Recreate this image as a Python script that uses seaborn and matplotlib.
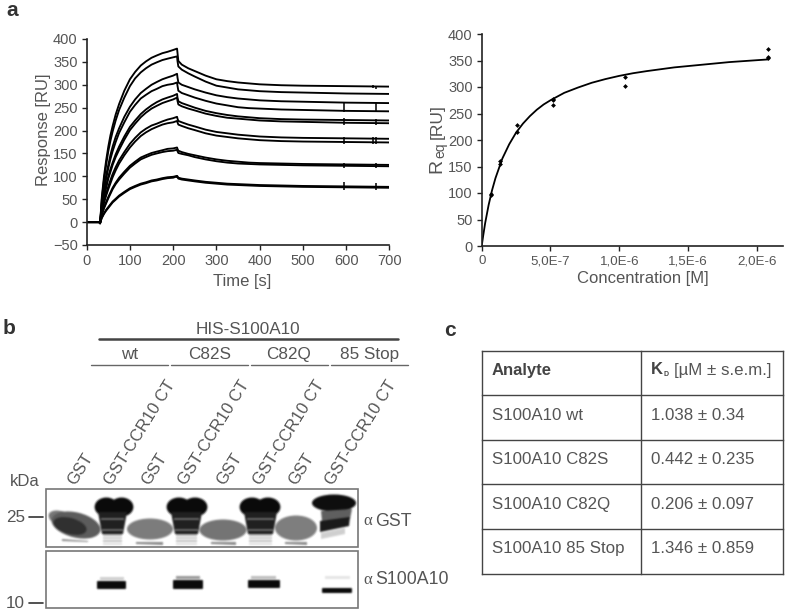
import matplotlib
matplotlib.use('Agg')
import matplotlib.pyplot as plt
from matplotlib.patches import Ellipse, Rectangle, FancyBboxPatch, Polygon
import numpy as np
import pandas as pd
import seaborn as sns

sns.set_theme(style='ticks')
plt.rcParams['font.family'] = ['Liberation Sans', 'DejaVu Sans']

W, H = 787, 612
GREY = '#555555'
DARK = '#222222'

# --- panel a, sensorgrams ---
times = [0, 29, 31, 35, 40, 45, 50, 55, 60, 67, 75, 87, 100, 112, 125, 137, 150, 162, 175, 187, 200, 209,
         210, 212, 220, 235, 250, 275, 300, 325, 350, 375, 400, 450, 500, 600, 700]
curve_1 = [0, 0, -3, 55, 100, 135, 165, 190, 210, 235, 258, 287, 312, 328, 342, 351, 359, 364, 369, 372, 376, 379,
           370, 352, 344, 336, 330, 320, 312, 308, 305, 303, 301, 299, 298, 297, 296]
curve_2 = [0, 0, -3, 50, 92, 125, 155, 178, 198, 222, 245, 272, 297, 314, 327, 336, 344, 349, 354, 357, 360, 362,
           352, 340, 333, 325, 318, 307, 298, 294, 290, 288, 286, 284, 283, 281, 280]
curve_3 = [0, 0, -2, 42, 75, 102, 125, 147, 165, 186, 205, 230, 252, 268, 282, 291, 300, 306, 312, 316, 320, 324,
           316, 305, 300, 295, 290, 283, 277, 273, 270, 268, 266, 264, 263, 261, 260]
curve_4 = [0, 0, -2, 38, 70, 95, 118, 138, 155, 175, 195, 218, 241, 256, 270, 278, 286, 291, 297, 300, 302, 305,
           298, 287, 282, 277, 272, 265, 259, 255, 251, 249, 248, 246, 245, 243, 242]
curve_5 = [0, 0, -2, 32, 58, 80, 100, 116, 130, 148, 165, 187, 208, 222, 236, 246, 255, 262, 268, 272, 276, 280,
           272, 264, 260, 255, 250, 243, 238, 234, 231, 229, 227, 225, 224, 223, 222]
curve_6 = [0, 0, -2, 30, 55, 75, 95, 110, 125, 142, 158, 180, 201, 215, 229, 239, 248, 254, 260, 264, 268, 272,
           265, 257, 253, 248, 244, 237, 232, 228, 226, 224, 222, 220, 219, 217, 216]
curve_7 = [0, 0, -2, 25, 45, 62, 78, 92, 105, 120, 135, 153, 171, 184, 196, 204, 211, 215, 220, 224, 227, 230,
           226, 221, 218, 213, 209, 202, 197, 194, 191, 189, 187, 185, 184, 183, 182]
curve_8 = [0, 0, -2, 22, 42, 58, 72, 85, 98, 113, 128, 146, 163, 176, 188, 196, 203, 208, 213, 216, 218, 221,
           218, 213, 210, 205, 201, 194, 189, 186, 183, 181, 179, 177, 176, 175, 174]
curve_9 = [0, 0, -2, 17, 32, 44, 55, 65, 75, 86, 97, 110, 123, 132, 141, 146, 151, 154, 157, 160, 161, 163,
           160, 156, 153, 149, 146, 141, 137, 134, 132, 130, 129, 128, 127, 126, 125]
curve_10 = [0, 0, -2, 16, 30, 41, 52, 62, 72, 83, 93, 106, 119, 128, 137, 142, 147, 150, 153, 155, 156, 158,
            155, 151, 149, 146, 142, 137, 133, 130, 128, 127, 126, 125, 124, 123, 122]
curve_11 = [0, 0, -1, 10, 19, 27, 33, 39, 45, 51, 58, 66, 74, 79, 84, 87, 91, 93, 96, 98, 99, 101,
            100, 97, 95, 93, 91, 88, 86, 84, 83, 82, 81, 80, 79, 78, 77]
curve_12 = [0, 0, -1, 9, 18, 25, 31, 37, 43, 49, 56, 64, 72, 77, 82, 85, 89, 91, 94, 96, 97, 100,
            98, 95, 93, 91, 89, 86, 84, 82, 81, 80, 79, 78, 77, 76, 75]
curves = [curve_1, curve_2, curve_3, curve_4, curve_5, curve_6, curve_7, curve_8,
          curve_9, curve_10, curve_11, curve_12]

# injection spikes near the end of the run
spike_t = [595, 595, 595, 595, 663, 670, 670, 670, 663, 670, 670, 595, 670]
spike_low = [241, 213, 170, 118, 294, 290, 241, 213, 170, 170, 118, 70, 70]
spike_high = [262, 228, 186, 130, 300, 297, 262, 226, 187, 187, 130, 87, 85]

# --- panel a, binding isotherm ---
conc_points = [6.5e-8, 6.5e-8, 1.3e-7, 1.3e-7, 2.6e-7, 2.6e-7, 5.2e-7, 5.2e-7, 5.2e-7,
               1.04e-6, 1.04e-6, 2.08e-6, 2.08e-6, 2.08e-6]
req_points = [97, 99, 154, 160, 216, 229, 266, 276, 278, 301, 319, 354, 357, 372]
conc_fit = [0, 1e-8, 2.5e-8, 5e-8, 7.5e-8, 1e-7, 1.5e-7, 2e-7, 2.5e-7, 3e-7, 3.5e-7, 4e-7, 4.5e-7, 5e-7, 5.5e-7,
            6e-7, 7e-7, 8e-7, 9e-7, 1e-6, 1.1e-6, 1.2e-6, 1.4e-6, 1.6e-6, 1.8e-6, 2.08e-6]
req_fit = [0, 18, 43, 77, 105, 128, 165, 192, 214, 231, 245, 257, 267, 275, 282, 289, 299, 308, 315, 321, 326, 330,
           337, 342, 347, 352]
conc_ticks = [0, 5e-7, 1e-6, 1.5e-6, 2e-6]
conc_labels = ['0', '5,0E-7', '1,0E-6', '1,5E-6', '2,0E-6']

# --- panel b ---
lane_labels = ['GST', 'GST-CCR10 CT'] * 4
groups = ['wt', 'C82S', 'C82Q', '85 Stop']

# --- panel c ---
analytes = ['S100A10 wt', 'S100A10 C82S', 'S100A10 C82Q', 'S100A10 85 Stop']
kd_values = ['1.038 ± 0.34', '0.442 ± 0.235', '0.206 ± 0.097', '1.346 ± 0.859']


def axes_px(fig, x0, y0, x1, y1):
    return fig.add_axes([x0 / W, 1 - y1 / H, (x1 - x0) / W, (y1 - y0) / H])


def style_axes(ax):
    sns.despine(ax=ax)
    for side in ['left', 'bottom']:
        ax.spines[side].set_color(DARK)
        ax.spines[side].set_linewidth(1.2)
    ax.patch.set_alpha(0)
    ax.tick_params(colors=GREY, labelsize=10.5, length=3.5, width=1, pad=3, color=DARK)


def draw_gel():
    # the blot is drawn on a scratch figure and softened, so the bands look photographed
    gfig = plt.figure(figsize=(W / 100, H / 100), dpi=100)
    g = gfig.add_axes([0, 0, 1, 1])
    g.set_xlim(0, W)
    g.set_ylim(H, 0)
    g.axis('off')

    # grey GST smears
    g.add_patch(Ellipse((62, 519), 28, 15, angle=20, fc='#777777', ec='none'))
    g.add_patch(Ellipse((76, 525), 50, 25, angle=14, fc='#5c5c5c', ec='none'))
    g.add_patch(Ellipse((70, 526), 34, 16, angle=15, fc='#303030', ec='none'))
    for x, w, h, y, col in [(150, 46, 21, 529, '#7c7c7c'), (223, 47, 21, 530, '#747474'),
                            (296, 42, 25, 528, '#7e7e7e')]:
        g.add_patch(Ellipse((x, y), w, h, fc=col, ec='none'))
    for x0, x1, y in [(62, 88, 539), (136, 163, 542), (211, 236, 542), (285, 307, 542)]:
        g.add_patch(Polygon([(x0, y), (x1, y + (2 if x0 == 62 else 0)), (x1, y + 3), (x0, y + 2)], fc='#8a8a8a', ec='none'))

    # dark GST-CCR10 CT blobs
    for x, w, sx0, sx1 in [(114, 38, 102, 123), (187, 40, 175, 198), (260, 40, 248, 273)]:
        g.add_patch(Ellipse((x - w * 0.2, 507), w * 0.62, 19, fc='#0a0a0a', ec='none'))
        g.add_patch(Ellipse((x + w * 0.2, 507), w * 0.62, 19, fc='#0a0a0a', ec='none'))
        g.add_patch(Polygon([(sx0 - 4, 512), (sx1 + 4, 512), (sx1, 534), (sx0, 534)], fc='#202020', ec='none'))
        g.add_patch(Rectangle((sx0 - 1, 517.5), sx1 - sx0 + 2, 2.5, fc='#666666', ec='none'))
        g.add_patch(Rectangle((sx0, 529), sx1 - sx0, 1.5, fc='#666666', ec='none'))
        for y, col in [(534, '#b5b5b5'), (537, '#cfcfcf'), (540, '#c4c4c4'), (543, '#e0e0e0')]:
            g.add_patch(Rectangle((sx0 + 1, y), sx1 - sx0 - 2, 2.2, fc=col, ec='none'))
    g.add_patch(Ellipse((334, 503), 44, 17, fc='#0e0e0e', ec='none'))
    g.add_patch(Polygon([(321, 511), (352, 509), (350, 519), (322, 521)], fc='#5f5f5f', ec='none'))
    g.add_patch(Polygon([(320, 521), (350, 517), (349, 526), (320, 532)], fc='#1a1a1a', ec='none'))
    g.add_patch(Polygon([(321, 533), (345, 528), (345, 534), (321, 539)], fc='#cfcfcf', ec='none'))

    # S100A10 bands
    for x0, x1, y0, y1 in [(97, 126, 581, 589), (173, 203, 580, 589), (248, 280, 580, 588), (322, 352, 588, 593)]:
        g.add_patch(FancyBboxPatch((x0 + 1, y0 + 1), x1 - x0 - 2, y1 - y0 - 2, boxstyle='round,pad=1',
                                   fc='#0a0a0a', ec='none'))
    for x0, x1, y, col in [(100, 124, 577, '#cfcfcf'), (176, 200, 576, '#9a9a9a'), (251, 276, 576, '#bdbdbd'),
                           (325, 350, 576, '#e4e4e4')]:
        g.add_patch(Rectangle((x0, y), x1 - x0, 2.5, fc=col, ec='none'))

    gfig.canvas.draw()
    img = np.asarray(gfig.canvas.buffer_rgba())[489:609, 46:358, 0].astype(float)
    plt.close(gfig)
    for _ in range(2):
        img = (img + np.roll(img, 1, 0) + np.roll(img, -1, 0) + np.roll(img, 1, 1) + np.roll(img, -1, 1)) / 5
    return img


fig = plt.figure(figsize=(W / 100, H / 100), dpi=100)

# pixel canvas for the blot, the table and the loose text
bg = fig.add_axes([0, 0, 1, 1])
bg.imshow(draw_gel(), cmap='gray', vmin=0, vmax=255, extent=(46, 358, 609, 489), aspect='auto', zorder=1)
bg.set_xlim(0, W)
bg.set_ylim(H, 0)
bg.axis('off')

# sensorgrams
ax1 = axes_px(fig, 86.7, 39, 389.3, 245)
rows = []
for n, c in enumerate(curves):
    for t, r in zip(times, c):
        rows.append({'time': t, 'response': r, 'curve': n})
sns.lineplot(data=pd.DataFrame(rows), x='time', y='response', units='curve', estimator=None,
             color='black', linewidth=1.35, ax=ax1)
ax1.vlines(spike_t, spike_low, spike_high, color='black', linewidth=1.1)
ax1.set_xlim(0, 700)
ax1.set_ylim(-50, 400)
ax1.set_xticks(range(0, 701, 100))
ax1.set_yticks(range(-50, 401, 50))
style_axes(ax1)
ax1.set_xlabel('Time [s]', fontsize=12, color=GREY)
ax1.set_ylabel('Response [RU]', fontsize=12, color=GREY)
ax1.xaxis.set_label_coords(0.513, -0.14)
ax1.yaxis.set_label_coords(-0.118, 0.558)

# isotherm
ax2 = axes_px(fig, 481.7, 34, 783, 246)
sns.lineplot(x=conc_fit, y=req_fit, color='black', linewidth=1.3, ax=ax2)
sns.scatterplot(x=conc_points, y=req_points, color='black', marker='D', s=6, linewidth=0, ax=ax2, zorder=3)
ax2.set_xlim(0, 2.19e-6)
ax2.set_ylim(0, 400)
ax2.set_xticks(conc_ticks)
ax2.set_xticklabels(conc_labels)
ax2.set_yticks(range(0, 401, 50))
style_axes(ax2)
ax2.tick_params(axis='x', labelsize=9.6)
ax2.set_xlabel('Concentration [M]', fontsize=12, color=GREY)
ax2.xaxis.set_label_coords(0.535, -0.118)
ax2.set_ylabel('')
bg.text(437, 173, 'R', fontsize=14, color=GREY, rotation=90, ha='center', va='bottom')
bg.text(440, 158, 'eq', fontsize=10, color=GREY, rotation=90, ha='center', va='bottom')
bg.text(437, 139, '[RU]', fontsize=12.5, color=GREY, rotation=90, ha='center', va='bottom')

# panel letters
bg.text(6, 10, 'a', fontsize=15, fontweight='bold', color='#333333', va='center')
bg.text(3, 328, 'b', fontsize=15, fontweight='bold', color='#333333', va='center')
bg.text(444, 330, 'c', fontsize=15, fontweight='bold', color='#333333', va='center')

# blot headers
bg.text(248, 333.5, 'HIS-S100A10', fontsize=12.3, color=GREY, ha='center', va='baseline')
bg.plot([99, 398], [339, 339], color='#444444', lw=1.8)
for g, xc, x0, x1 in zip(groups, [130, 210, 289, 370], [91, 171, 251, 331], [168, 248, 328, 408]):
    bg.text(xc, 359, g, fontsize=12.3, color=GREY, ha='center', va='baseline')
    bg.plot([x0, x1], [365, 365], color='#666666', lw=1)

lane_start = [71, 108, 145, 182, 220, 257, 292, 329]
for lab, x in zip(lane_labels, lane_start):
    bg.text(x, 484, lab, fontsize=12, color=GREY, rotation=58, rotation_mode='anchor', ha='left', va='center')

bg.text(10, 481, 'kDa', fontsize=12, color=GREY, va='center')
bg.text(6, 517, '25', fontsize=12.3, color=GREY, va='center')
bg.text(6, 603, '10', fontsize=12.3, color=GREY, va='center')
bg.plot([29, 43], [517, 517], color='#333333', lw=1.2)
bg.plot([29, 43], [603, 603], color='#333333', lw=1.2)

# blot frames
for y0, y1 in [(489, 547), (551, 608)]:
    bg.add_patch(Rectangle((45.7, y0), 312.3, y1 - y0, fc='none', ec='#777777', lw=1.2, zorder=4))
bg.add_patch(Rectangle((44, 547.7), 316, 2.6, fc='white', ec='none', zorder=3))

bg.text(363, 521, 'α', fontsize=12, color=GREY, family='Liberation Serif', va='center')
bg.text(375, 521, 'GST', fontsize=12.8, color=GREY, va='center')
bg.text(363, 580, 'α', fontsize=12, color=GREY, family='Liberation Serif', va='center')
bg.text(375, 580, 'S100A10', fontsize=12.8, color=GREY, va='center')

# table
tab_x = [481.7, 640.7, 783]
tab_y = [350.7, 395, 440, 484, 529, 574]
for y in tab_y:
    bg.plot([tab_x[0], tab_x[2]], [y, y], color='#444444', lw=1, solid_capstyle='projecting')
for x in tab_x:
    bg.plot([x, x], [tab_y[0], tab_y[-1]], color='#444444', lw=1, solid_capstyle='projecting')

bg.text(491.7, 370, 'Analyte', fontsize=12, fontweight='bold', color='#444444', va='center')
bg.text(650.7, 370, 'K', fontsize=12, fontweight='bold', color='#444444', va='center')
bg.text(663, 374, 'D', fontsize=5, fontweight='bold', color='#444444', va='center')
bg.text(674, 370, '[µM ± s.e.m.]', fontsize=12.2, color=GREY, va='center')
for n, (a, k) in enumerate(zip(analytes, kd_values)):
    y = 419.5 + n * 44.6
    bg.text(491.7, y, a, fontsize=12.2, color=GREY, va='baseline')
    bg.text(650.7, y, k, fontsize=12.2, color=GREY, va='baseline')

fig.savefig('out.png', dpi=100)
